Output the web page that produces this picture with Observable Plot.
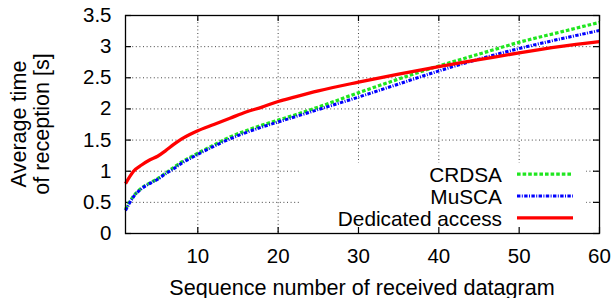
<!DOCTYPE html>
<html>
<head>
<meta charset="utf-8">
<script src="https://cdn.jsdelivr.net/npm/d3@7"></script>
<script src="https://cdn.jsdelivr.net/npm/@observablehq/plot@0.6"></script>
<style>
  body { margin: 0; background: #fff; }
  #chart svg { display: block; }
</style>
</head>
<body>
<div id="chart"></div>
<script>
// ---- data ----
const seqNumbers = [1, 2, 3, 4, 5, 6, 7, 8, 9, 10, 12, 14, 16, 18, 20, 22, 25, 30, 35, 40, 45, 50, 55, 60];
const crdsaTimes = [0.39, 0.60, 0.73, 0.81, 0.88, 0.97, 1.06, 1.15, 1.22, 1.29, 1.42, 1.55, 1.65, 1.74, 1.82, 1.90, 2.03, 2.26, 2.48, 2.69, 2.88, 3.07, 3.23, 3.39];
const muscaTimes = [0.37, 0.59, 0.72, 0.80, 0.87, 0.96, 1.04, 1.13, 1.20, 1.27, 1.40, 1.52, 1.62, 1.71, 1.79, 1.87, 1.99, 2.19, 2.40, 2.61, 2.80, 2.97, 3.12, 3.26];
const dedicatedTimes = [0.80, 1.00, 1.10, 1.18, 1.24, 1.33, 1.43, 1.52, 1.59, 1.65, 1.75, 1.85, 1.95, 2.03, 2.12, 2.19, 2.29, 2.43, 2.56, 2.68, 2.79, 2.90, 3.00, 3.08];
const seriesNames = ["CRDSA", "MuSCA", "Dedicated access"];
const xTicks = [10, 20, 30, 40, 50, 60];
const yTicks = [0, 0.5, 1, 1.5, 2, 2.5, 3, 3.5];
const yTickLabels = ["0", "0.5", "1", "1.5", "2", "2.5", "3", "3.5"];
const xTitle = "Sequence number of received datagram";
const yTitleLines = ["Average time", "of reception [s]"];

// ---- layout / style ----
const W = 615, H = 298, ML = 125, MR = 16, MT = 15, MB = 65;
const PW = W - ML - MR, PH = H - MT - MB;
const FONT = "'Liberation Sans', Arial, Helvetica, sans-serif";
const styles = [
  {color: "#1fe61f", dash: "3.6,2", width: 3.2},
  {color: "#0000ff", dash: "3.4,1.4,1,1.4", width: 3},
  {color: "#ff0000", dash: null, width: 3.3}
];
const seriesValues = [crdsaTimes, muscaTimes, dedicatedTimes];
const series = seriesNames.map((name, i) => ({
  name, style: styles[i],
  rows: seqNumbers.map((x, j) => ({x, y: seriesValues[i][j]}))
}));

const gridStyle = {stroke: "#444", strokeOpacity: 1, strokeWidth: 1, strokeDasharray: "1,2.6"};

// legend box + legend + axis titles (pixel decoration)
function decorBox() {
  const g = d3.create("svg:g");
  g.append("rect").attr("x", 299).attr("y", 163).attr("width", 287).attr("height", H - MB - 163)
    .attr("fill", "#fff");
  return g.node();
}
function decorText() {
  const g = d3.create("svg:g").attr("font-family", FONT).attr("fill", "#000");
  const rowsY = [174.5, 196.3, 218.2];
  series.forEach((s, i) => {
    g.append("text").attr("x", 502).attr("y", rowsY[i] + 7.4).attr("text-anchor", "end")
      .attr("font-size", 20.8).text(s.name);
    g.append("line").attr("x1", 517).attr("x2", 573).attr("y1", rowsY[i] - 0.3).attr("y2", rowsY[i] - 0.3)
      .attr("stroke", s.style.color).attr("stroke-width", s.style.width)
      .attr("stroke-dasharray", s.style.dash);
  });
  g.append("text").attr("x", ML + PW / 2).attr("y", 294.5).attr("text-anchor", "middle")
    .attr("font-size", 21.6).text(xTitle);
  const cy = MT + PH / 2;
  [25.5, 48.5].forEach((bx, i) => {
    g.append("text").attr("transform", `translate(${bx},${cy}) rotate(-90)`)
      .attr("text-anchor", "middle").attr("font-size", 21.6).text(yTitleLines[i]);
  });
  return g.node();
}

const chart = Plot.plot({
  width: W, height: H,
  marginLeft: ML, marginRight: MR, marginTop: MT, marginBottom: MB,
  style: {fontFamily: FONT, fontSize: "20.5px", background: "#fff", color: "#000"},
  x: {domain: [1, 60], ticks: xTicks, tickSize: 0, tickPadding: 15, label: null, line: false},
  y: {domain: [0, 3.5], ticks: yTicks, tickSize: 0, tickPadding: 14, label: null, line: false,
      tickFormat: d => yTickLabels[yTicks.indexOf(d)]},
  marks: [
    Plot.ruleX(xTicks, {x: d => d, ...gridStyle}),
    Plot.ruleY(yTicks, {y: d => d, ...gridStyle}),
    decorBox,
    Plot.tickX(xTicks, {x: d => d, insetTop: PH - 6, stroke: "#000", strokeWidth: 1.2}),
    Plot.tickX(xTicks, {x: d => d, insetBottom: PH - 6, stroke: "#000", strokeWidth: 1.2}),
    Plot.tickY(yTicks, {y: d => d, insetRight: PW - 6, stroke: "#000", strokeWidth: 1.2}),
    Plot.tickY(yTicks, {y: d => d, insetLeft: PW - 6, stroke: "#000", strokeWidth: 1.2}),
    ...series.map(s => Plot.line(s.rows, {
      x: "x", y: "y", curve: "monotone-x",
      stroke: s.style.color, strokeWidth: s.style.width,
      strokeDasharray: s.style.dash, strokeLinecap: "butt", strokeLinejoin: "round"
    })),
    Plot.frame({stroke: "#000", strokeWidth: 1.3}),
    decorText
  ]
});
document.getElementById("chart").append(chart);
</script>
</body>
</html>
